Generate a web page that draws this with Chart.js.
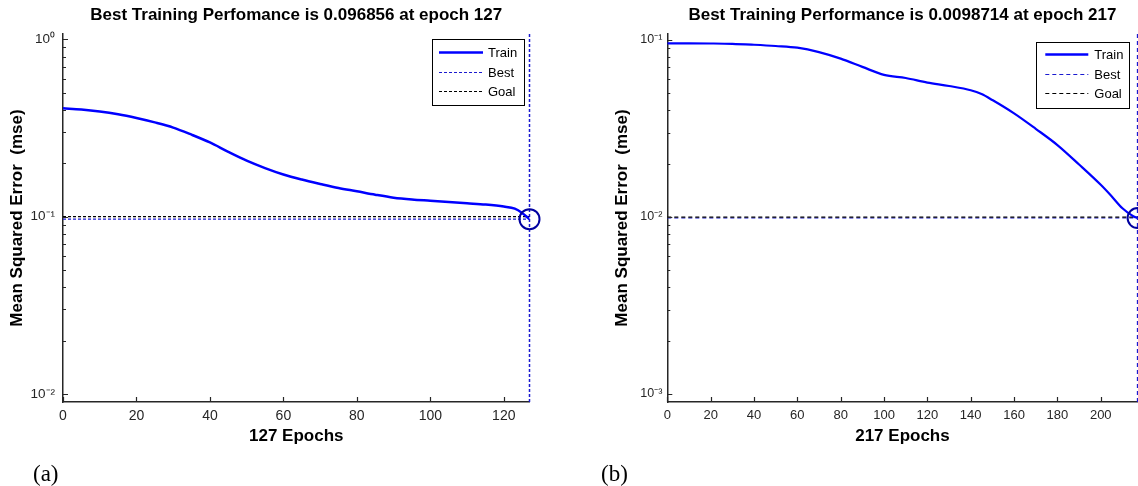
<!DOCTYPE html>
<html><head><meta charset="utf-8">
<script src="https://cdn.jsdelivr.net/npm/chart.js@4.4.0/dist/chart.umd.min.js"></script>
<style>
html,body{margin:0;padding:0;background:#fff;}
body{width:1138px;height:486px;position:relative;overflow:hidden;}
.wrap{position:absolute;top:0;height:486px;overflow:hidden;}
.lab{position:absolute;font-family:"Liberation Serif","Times New Roman",serif;font-size:23px;line-height:23px;color:#000;}
</style></head>
<body>
<div class="wrap" style="left:0;width:569px"><canvas id="ca" width="569" height="486"></canvas></div>
<div class="wrap" style="left:569px;width:569px"><canvas id="cb" width="600" height="486"></canvas></div>
<div class="lab" style="left:33px;top:462px">(a)</div>
<div class="lab" style="left:601px;top:462px">(b)</div>
<script>
// ---------- data (a) ----------
const epochsA = [0,5,10,15,20,25,30,35,40,45,50,55,60,65,70,75,80,85,90,95,100,105,110,115,120,123,125,127];
const trainA  = [0.408,0.402,0.392,0.378,0.360,0.340,0.318,0.290,0.262,0.232,0.207,0.188,0.173,0.162,0.153,0.145,0.139,0.133,0.128,0.125,0.123,0.121,0.119,0.117,0.114,0.111,0.105,0.096856];
const bestEpochA = 127;
const bestPerfA = 0.096856;
const goalA = 0.1;
const xTicksA = [0,20,40,60,80,100,120];
const yTicksA = [0.01,0.1,1];
const yLabelsA = ['10\u207B\u00B2','10\u207B\u00B9','10\u2070'];
const yMinorA = [0.02,0.03,0.04,0.05,0.06,0.07,0.08,0.09,0.2,0.3,0.4,0.5,0.6,0.7,0.8,0.9];
const titleA = 'Best Training Perfomance is 0.096856 at epoch 127';
const xTitleA = '127 Epochs';

// ---------- data (b) ----------
const epochsB = [0,10,20,30,40,50,60,70,80,90,100,110,120,130,140,145,150,160,170,180,190,200,205,210,215,217];
const trainB  = [0.0957,0.0957,0.0956,0.0952,0.0940,0.0925,0.0905,0.0855,0.0785,0.0705,0.0635,0.0610,0.0575,0.0550,0.0520,0.0495,0.0458,0.0385,0.0315,0.0255,0.0198,0.0152,0.0131,0.0112,0.0101,0.0098714];
const bestEpochB = 217;
const bestPerfB = 0.0098714;
const goalB = 0.01;
const xTicksB = [0,20,40,60,80,100,120,140,160,180,200];
const yTicksB = [0.001,0.01,0.1];
const yLabelsB = ['10\u207B\u00B3','10\u207B\u00B2','10\u207B\u00B9'];
const yMinorB = [0.002,0.003,0.004,0.005,0.006,0.007,0.008,0.009,0.02,0.03,0.04,0.05,0.06,0.07,0.08,0.09];
const titleB = 'Best Training Performance is 0.0098714 at epoch 217';
const xTitleB = '217 Epochs';

const yTitle = 'Mean Squared Error  (mse)';
const legendLabels = ['Train','Best','Goal'];

Chart.defaults.font.family = '"Liberation Sans", Arial, sans-serif';

const inwardTicks = {
  id: 'inwardTicks',
  afterDraw(chart, args, o) {
    const {ctx, chartArea: a, scales: {x, y}} = chart;
    ctx.save();
    ctx.strokeStyle = '#262626';
    ctx.lineWidth = 1.2;
    ctx.beginPath();
    o.xTicks.forEach(v => { const px = Math.round(x.getPixelForValue(v)) + 0.5; ctx.moveTo(px, a.bottom); ctx.lineTo(px, a.bottom - 5); });
    o.yMajor.forEach(v => { const py = Math.round(y.getPixelForValue(v)) + 0.5; ctx.moveTo(a.left, py); ctx.lineTo(a.left + 5, py); });
    o.yMinor.forEach(v => { const py = Math.round(y.getPixelForValue(v)) + 0.5; ctx.moveTo(a.left, py); ctx.lineTo(a.left + 3, py); });
    ctx.stroke();
    ctx.restore();
  }
};

const boxLegend = {
  id: 'boxLegend',
  afterDraw(chart, args, o) {
    const {ctx, chartArea: a} = chart;
    const left = a.right - o.right - o.width, top = a.top + o.top;
    ctx.save();
    ctx.fillStyle = '#fff';
    ctx.fillRect(left, top, o.width, o.height);
    ctx.strokeStyle = '#000'; ctx.lineWidth = 1;
    ctx.strokeRect(Math.round(left) + 0.5, Math.round(top) + 0.5, Math.round(o.width), Math.round(o.height));
    ctx.font = '13px "Liberation Sans", Arial, sans-serif';
    ctx.textBaseline = 'middle';
    o.items.forEach((it, i) => {
      const yy = Math.round(top + o.rows[i]) + 0.5;
      ctx.strokeStyle = it.color; ctx.lineWidth = it.width; ctx.setLineDash(it.dash);
      ctx.beginPath(); ctx.moveTo(left + o.lineX0, yy); ctx.lineTo(left + o.lineX1, yy); ctx.stroke();
      ctx.setLineDash([]);
      ctx.fillStyle = '#000';
      ctx.fillText(it.label, left + o.textX, yy + 0.5);
    });
    ctx.restore();
  }
};

function makeChart(id, c) {
  const trainColor = '#0000FF', bestColor = '#1a1ad0', goalColor = '#000000';
  const trainData = c.epochs.map((e, i) => ({x: e, y: c.train[i]}));
  new Chart(document.getElementById(id), {
    type: 'line',
    data: {
      datasets: [
        {label: 'circle', data: [{x: c.bestEpoch, y: c.bestPerf}], showLine: false, pointRadius: 10, pointHoverRadius: 10,
         pointBorderColor: '#0000A0', pointBackgroundColor: 'rgba(0,0,0,0)', pointBorderWidth: 2, clip: false},
        {label: legendLabels[0], data: trainData, borderColor: trainColor, borderWidth: c.lw, pointRadius: 0, cubicInterpolationMode: 'monotone', fill: false},
        {label: legendLabels[2], data: [{x: 0, y: c.goal}, {x: c.bestEpoch, y: c.goal}], borderColor: goalColor, borderWidth: 1.2, borderDash: c.dash, pointRadius: 0},
        {label: legendLabels[1], data: [{x: 0, y: c.bestPerf}, {x: c.bestEpoch, y: c.bestPerf}], borderColor: bestColor, borderWidth: 1.2, borderDash: c.dash, pointRadius: 0},
        {label: legendLabels[1], data: [{x: c.bestEpoch, y: c.yMin}, {x: c.bestEpoch, y: c.yMax}], borderColor: bestColor, borderWidth: 1.5, borderDash: c.dash, pointRadius: 0, clip: 4}
      ]
    },
    options: {
      responsive: false, animation: false, devicePixelRatio: 1,
      layout: {padding: {left: 0, right: c.padRight, top: 0, bottom: 0}},
      plugins: {
        legend: {display: false}, tooltip: {enabled: false},
        title: {display: true, text: c.title, fullSize: false, color: '#000',
                font: {size: 17, weight: 'bold'}, padding: {top: 5, bottom: 8.6}},
        inwardTicks: {xTicks: c.xTicks, yMajor: c.yTicks, yMinor: c.yMinor},
        boxLegend: Object.assign({items: [
          {label: legendLabels[0], color: trainColor, width: 2.5, dash: []},
          {label: legendLabels[1], color: bestColor, width: 1.2, dash: c.dash},
          {label: legendLabels[2], color: goalColor, width: 1.2, dash: c.dash}
        ]}, c.legend)
      },
      scales: {
        x: {
          type: 'linear', min: 0, max: c.bestEpoch,
          grid: {display: false, drawTicks: false},
          border: {display: true, color: '#262626', width: 1.5},
          afterBuildTicks: s => { s.ticks = c.xTicks.map(v => ({value: v})); },
          afterFit: s => { s.height = 84; },
          ticks: {autoSkip: false, maxRotation: 0, padding: 6, color: '#262626', font: {size: c.xFont}},
          title: {display: true, text: c.xTitle, color: '#000', font: {size: 17, weight: 'bold'}, padding: {top: 0, bottom: 39.8}}
        },
        y: {
          type: 'logarithmic', min: c.yMin, max: c.yMax,
          grid: {display: false, drawTicks: false},
          border: {display: true, color: '#262626', width: 1.5},
          afterBuildTicks: s => { s.ticks = c.yTicks.map(v => ({value: v})); },
          afterFit: s => { s.width = c.yWidth; },
          ticks: {autoSkip: false, padding: c.yPad, color: '#262626', font: {size: c.yFont},
                  callback: (v, i) => c.yLabels[i]},
          title: {display: true, text: yTitle, color: '#000', font: {size: 17, weight: 'bold'}, padding: {top: c.yTitlePad, bottom: 0}}
        }
      }
    },
    plugins: [inwardTicks, boxLegend]
  });
}

makeChart('ca', {
  epochs: epochsA, train: trainA, bestEpoch: bestEpochA, bestPerf: bestPerfA, goal: goalA,
  xTicks: xTicksA, yTicks: yTicksA, yLabels: yLabelsA, yMinor: yMinorA,
  title: titleA, xTitle: xTitleA, yMin: Math.pow(10, -2.045), yMax: Math.pow(10, 0.03),
  padRight: 39.5, yWidth: 63, yPad: 8, yTitlePad: 6.8, xFont: 14, yFont: 13.5, lw: 2.5, dash: [3, 2],
  legend: {right: 5.5, top: 5, width: 92, height: 66, rows: [13, 32.5, 52], lineX0: 7, lineX1: 51, textX: 56}
});
makeChart('cb', {
  epochs: epochsB, train: trainB, bestEpoch: bestEpochB, bestPerf: bestPerfB, goal: goalB,
  xTicks: xTicksB, yTicks: yTicksB, yLabels: yLabelsB, yMinor: yMinorB,
  title: titleB, xTitle: xTitleB, yMin: Math.pow(10, -3.045), yMax: Math.pow(10, -0.966),
  padRight: 31.4, yWidth: 98.3, yPad: 5, yTitlePad: 42.8, xFont: 13, yFont: 12.5, lw: 2.2, dash: [4, 3],
  legend: {right: 8.3, top: 8.4, width: 93, height: 66, rows: [12, 31.5, 51], lineX0: 9, lineX1: 52, textX: 58}
});
</script>
</body></html>
